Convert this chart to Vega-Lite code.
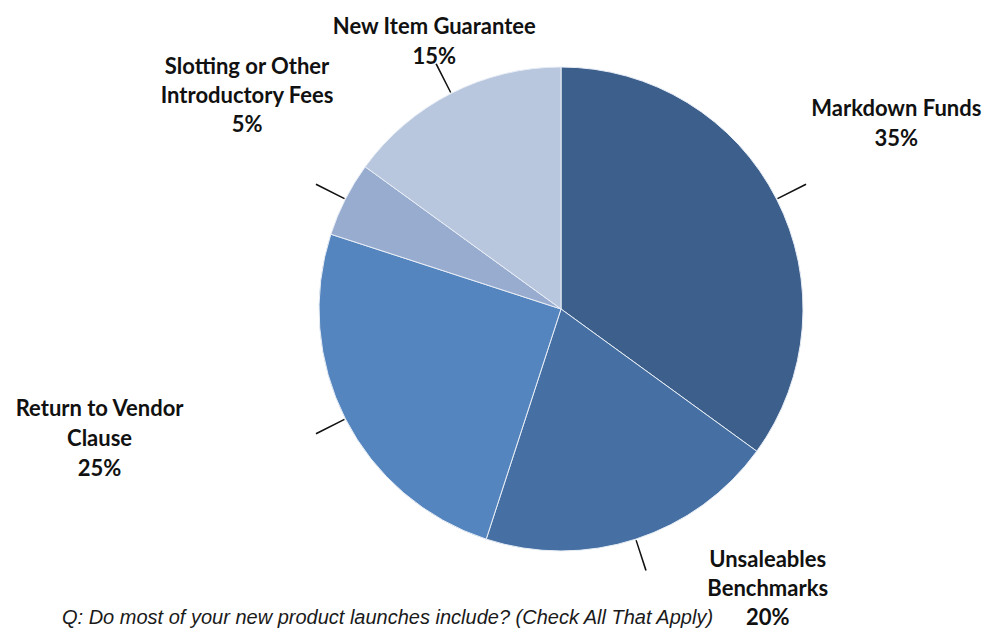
{
  "$schema": "https://vega.github.io/schema/vega-lite/v6.json",
  "width": 852,
  "height": 618,
  "autosize": {"type": "none"},
  "padding": {"left": 135, "top": 0, "right": 0, "bottom": 11},
  "background": "white",
  "config": {"view": {"stroke": null}},
  "title": {
    "text": "Q: Do most of your new product launches include? (Check All That Apply)",
    "orient": "bottom",
    "anchor": "start",
    "frame": "group",
    "offset": -21,
    "dx": -73,
    "font": "Liberation Sans",
    "fontStyle": "italic",
    "fontWeight": "normal",
    "fontSize": 20,
    "color": "#1a1a1a"
  },
  "data": {
    "values": [
      {"label": "Markdown Funds", "value": 35, "order": 1},
      {"label": "Unsaleables\nBenchmarks", "value": 20, "order": 2},
      {"label": "Return to Vendor\nClause", "value": 25, "order": 3},
      {"label": "Slotting or Other\nIntroductory Fees", "value": 5, "order": 4},
      {"label": "New Item Guarantee", "value": 15, "order": 5}
    ]
  },
  "transform": [
    {"window": [{"op": "sum", "field": "value", "as": "cum"}], "sort": [{"field": "order"}], "frame": [null, 0]},
    {"joinaggregate": [{"op": "sum", "field": "value", "as": "total"}]},
    {"calculate": "(datum.cum - datum.value) / datum.total * 2 * PI", "as": "a0"},
    {"calculate": "datum.cum / datum.total * 2 * PI", "as": "a1"},
    {"calculate": "(datum.a0 + datum.a1) / 2", "as": "mid"},
    {"calculate": "datum.mid - 0.003", "as": "l0"},
    {"calculate": "datum.mid + 0.003", "as": "l1"},
    {"calculate": "datum.label + '\\n' + datum.value + '%'", "as": "txt"}
  ],
  "layer": [
    {
      "mark": {"type": "arc", "outerRadius": 242, "stroke": "#e8eef6", "strokeWidth": 1},
      "encoding": {
        "theta": {"field": "a0", "type": "quantitative", "scale": null, "stack": null},
        "theta2": {"field": "a1"},
        "color": {
          "field": "label",
          "type": "nominal",
          "scale": {
            "domain": ["Markdown Funds", "Unsaleables\nBenchmarks", "Return to Vendor\nClause", "Slotting or Other\nIntroductory Fees", "New Item Guarantee"],
            "range": ["#3D5F8C", "#4670A3", "#5585BE", "#98ACD0", "#B8C6DE"]
          },
          "legend": null
        }
      }
    },
    {
      "mark": {"type": "arc", "radius": 275, "radius2": 243, "color": "#111111"},
      "encoding": {
        "theta": {"field": "l0", "type": "quantitative", "scale": null, "stack": null},
        "theta2": {"field": "l1"}
      }
    },
    {
      "transform": [{"filter": "datum.order == 1"}],
      "mark": {"type": "text", "radius": 373, "dx": 3, "dy": -31, "font": "Lato", "fontWeight": "bold", "fontSize": 22, "lineHeight": 30, "lineBreak": "\n", "align": "center", "baseline": "middle", "color": "#111111"},
      "encoding": {"theta": {"field": "mid", "type": "quantitative", "scale": null, "stack": null}, "text": {"field": "txt"}}
    },
    {
      "transform": [{"filter": "datum.order == 2"}],
      "mark": {"type": "text", "radius": 300, "dx": 114, "dy": -34, "font": "Lato", "fontWeight": "bold", "fontSize": 22, "lineHeight": 29, "lineBreak": "\n", "align": "center", "baseline": "middle", "color": "#111111"},
      "encoding": {"theta": {"field": "mid", "type": "quantitative", "scale": null, "stack": null}, "text": {"field": "txt"}}
    },
    {
      "transform": [{"filter": "datum.order == 3"}],
      "mark": {"type": "text", "radius": 400, "dx": -105, "dy": -82, "font": "Lato", "fontWeight": "bold", "fontSize": 22, "lineHeight": 30, "lineBreak": "\n", "align": "center", "baseline": "middle", "color": "#111111"},
      "encoding": {"theta": {"field": "mid", "type": "quantitative", "scale": null, "stack": null}, "text": {"field": "txt"}}
    },
    {
      "transform": [{"filter": "datum.order == 4"}],
      "mark": {"type": "text", "radius": 377, "dx": 22, "dy": -71, "font": "Lato", "fontWeight": "bold", "fontSize": 22, "lineHeight": 29, "lineBreak": "\n", "align": "center", "baseline": "middle", "color": "#111111"},
      "encoding": {"theta": {"field": "mid", "type": "quantitative", "scale": null, "stack": null}, "text": {"field": "txt"}}
    },
    {
      "transform": [{"filter": "datum.order == 5"}],
      "mark": {"type": "text", "radius": 301, "dx": 10, "dy": -14, "font": "Lato", "fontWeight": "bold", "fontSize": 22, "lineHeight": 30, "lineBreak": "\n", "align": "center", "baseline": "middle", "color": "#111111"},
      "encoding": {"theta": {"field": "mid", "type": "quantitative", "scale": null, "stack": null}, "text": {"field": "txt"}}
    }
  ]
}
